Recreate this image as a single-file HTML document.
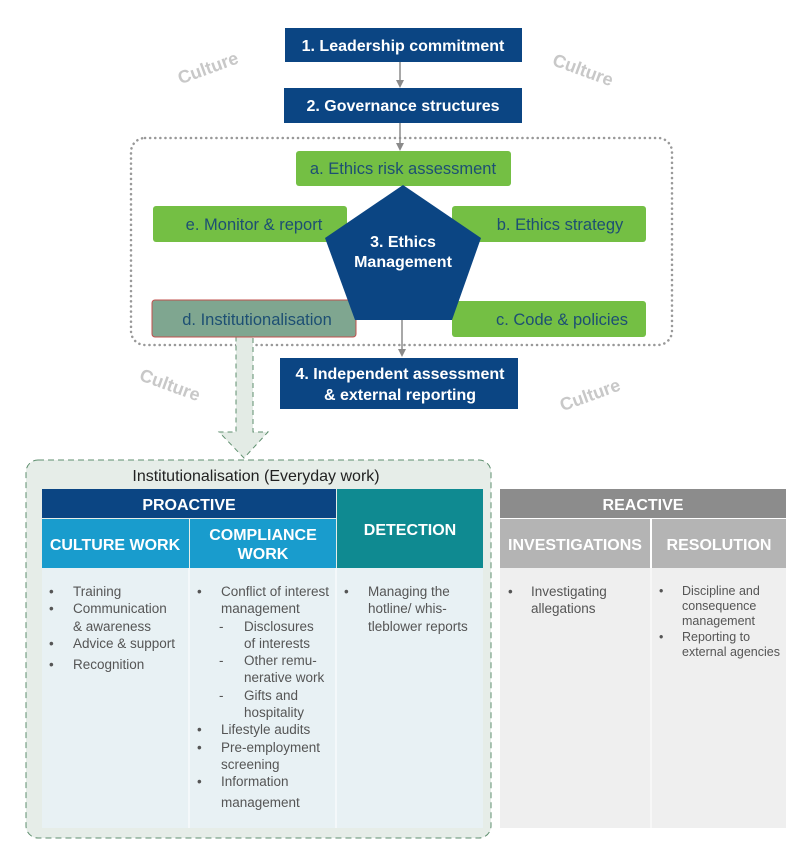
<!DOCTYPE html>
<html><head><meta charset="utf-8"><style>
html,body{margin:0;padding:0;background:#fff;}
svg{display:block;font-family:"Liberation Sans",sans-serif;}
</style></head><body>
<svg width="801" height="847" viewBox="0 0 801 847" xmlns="http://www.w3.org/2000/svg">
<defs><marker id="ah" markerWidth="8" markerHeight="8" refX="6" refY="4" orient="auto" markerUnits="userSpaceOnUse"><path d="M0,0 L8,4 L0,8 z" fill="#8a8a8a"/></marker></defs>
<!-- Culture labels -->
<g font-size="18" font-weight="bold" fill="#c8c8c8">
<text x="208" y="74" text-anchor="middle" transform="rotate(-20 208 68)">Culture</text>
<text x="583" y="76" text-anchor="middle" transform="rotate(20 583 70)">Culture</text>
<text x="170" y="391" text-anchor="middle" transform="rotate(20 170 385)">Culture</text>
<text x="590" y="401" text-anchor="middle" transform="rotate(-20 590 395)">Culture</text>
</g>
<!-- dotted container -->
<rect x="131" y="138" width="541" height="207" rx="14" fill="none" stroke="#999" stroke-width="2.5" stroke-dasharray="0.1 5" stroke-linecap="round"/>
<!-- bottom container -->
<rect x="26" y="460" width="465" height="378" rx="12" fill="#e6ede8" stroke="#5f8f6f" stroke-width="1" stroke-dasharray="6 4"/>
<!-- dashed block arrow -->
<path d="M236,337 L253,337 L253,432 L268,432 L244,458 L219,432 L236,432 Z" fill="#e3ebe5" stroke="#5f8f6f" stroke-width="1" stroke-dasharray="5 4"/>
<!-- arrows -->
<line x1="400" y1="62" x2="400" y2="86" stroke="#8a8a8a" stroke-width="1.5" marker-end="url(#ah)"/>
<line x1="400" y1="123" x2="400" y2="149" stroke="#8a8a8a" stroke-width="1.5" marker-end="url(#ah)"/>
<line x1="402" y1="320" x2="402" y2="355" stroke="#8a8a8a" stroke-width="1.5" marker-end="url(#ah)"/>
<!-- top boxes -->
<rect x="285" y="28" width="237" height="34" fill="#0b4583"/>
<text x="403" y="51" text-anchor="middle" fill="#fff" font-size="16" font-weight="bold">1. Leadership commitment</text>
<rect x="284" y="88" width="238" height="35" fill="#0b4583"/>
<text x="403" y="111" text-anchor="middle" fill="#fff" font-size="16" font-weight="bold">2. Governance structures</text>
<!-- green boxes -->
<g font-size="16.5">
<rect x="296" y="151" width="215" height="35" rx="3" fill="#74bf44"/>
<text x="403" y="174" text-anchor="middle" fill="#1d4f73">a. Ethics risk assessment</text>
<rect x="153" y="206" width="194" height="36" rx="3" fill="#74bf44"/>
<text x="254" y="230" text-anchor="middle" fill="#1d4f73">e. Monitor &amp; report</text>
<rect x="452" y="206" width="194" height="36" rx="3" fill="#74bf44"/>
<text x="560" y="230" text-anchor="middle" fill="#1d4f73">b. Ethics strategy</text>
<rect x="152" y="300" width="204" height="37" rx="3" fill="#7fa690" stroke="#c0504d" stroke-width="1"/>
<text x="257" y="325" text-anchor="middle" fill="#1d4f73">d. Institutionalisation</text>
<rect x="452" y="301" width="194" height="36" rx="3" fill="#74bf44"/>
<text x="562" y="325" text-anchor="middle" fill="#1d4f73">c. Code &amp; policies</text>
</g>
<!-- pentagon -->
<polygon points="403,185 481,238 452,320 355,320 325,238" fill="#0b4583"/>
<text x="403" y="247" text-anchor="middle" fill="#fff" font-size="16" font-weight="bold">3. Ethics</text>
<text x="403" y="267" text-anchor="middle" fill="#fff" font-size="16" font-weight="bold">Management</text>
<!-- box 4 -->
<rect x="280" y="358" width="238" height="51" fill="#0b4583"/>
<text x="400" y="379" text-anchor="middle" fill="#fff" font-size="16" font-weight="bold">4. Independent assessment</text>
<text x="400" y="400" text-anchor="middle" fill="#fff" font-size="16" font-weight="bold">&amp; external reporting</text>
<text x="256" y="481" text-anchor="middle" fill="#222" font-size="16">Institutionalisation (Everyday work)</text>
<!-- proactive table -->
<rect x="42" y="568" width="441" height="260" fill="#e8f1f4"/>
<line x1="189" y1="568" x2="189" y2="828" stroke="#fff" stroke-width="1"/>
<line x1="336" y1="568" x2="336" y2="828" stroke="#fff" stroke-width="1"/>
<rect x="42" y="489" width="294" height="29" fill="#0b4583"/>
<rect x="42" y="519" width="147" height="49" fill="#199ccd"/>
<rect x="190" y="519" width="146" height="49" fill="#199ccd"/>
<rect x="337" y="489" width="146" height="79" fill="#0f8a91"/>
<g fill="#fff" font-weight="bold" font-size="16" text-anchor="middle">
<text x="189" y="510">PROACTIVE</text>
<text x="115" y="550">CULTURE WORK</text>
<text x="263" y="540">COMPLIANCE</text>
<text x="263" y="559">WORK</text>
<text x="410" y="535">DETECTION</text>
</g>
<!-- reactive table -->
<rect x="500" y="568" width="286" height="260" fill="#efefef"/>
<line x1="651" y1="568" x2="651" y2="828" stroke="#fff" stroke-width="1"/>
<rect x="500" y="489" width="286" height="29" fill="#8c8c8c"/>
<rect x="500" y="519" width="150" height="49" fill="#b4b4b4"/>
<rect x="652" y="519" width="134" height="49" fill="#b4b4b4"/>
<g fill="#fff" font-weight="bold" font-size="16" text-anchor="middle">
<text x="643" y="510">REACTIVE</text>
<text x="575" y="550">INVESTIGATIONS</text>
<text x="719" y="550">RESOLUTION</text>
</g>
<!-- body text -->
<g fill="#555" font-size="13.5">
<text x="49" y="596">•</text><text x="73" y="596">Training</text>
<text x="49" y="613">•</text><text x="73" y="613">Communication</text>
<text x="73" y="631">&amp; awareness</text>
<text x="49" y="648">•</text><text x="73" y="648">Advice &amp; support</text>
<text x="49" y="669">•</text><text x="73" y="669">Recognition</text>

<text x="197" y="596">•</text><text x="221" y="596">Conflict of interest</text>
<text x="221" y="613">management</text>
<text x="219" y="631">-</text><text x="244" y="631">Disclosures</text>
<text x="244" y="648">of interests</text>
<text x="219" y="665">-</text><text x="244" y="665">Other remu-</text>
<text x="244" y="682">nerative work</text>
<text x="219" y="700">-</text><text x="244" y="700">Gifts and</text>
<text x="244" y="717">hospitality</text>
<text x="197" y="734">•</text><text x="221" y="734">Lifestyle audits</text>
<text x="197" y="752">•</text><text x="221" y="752">Pre-employment</text>
<text x="221" y="769">screening</text>
<text x="197" y="786">•</text><text x="221" y="786">Information</text>
<text x="221" y="807">management</text>

<text x="344" y="596">•</text><text x="368" y="596">Managing the</text>
<text x="368" y="613">hotline/ whis-</text>
<text x="368" y="631">tleblower reports</text>

<text x="508" y="596">•</text><text x="531" y="596">Investigating</text>
<text x="531" y="613">allegations</text>
</g>
<g fill="#555" font-size="12.5">
<text x="659" y="595">•</text><text x="682" y="595">Discipline and</text>
<text x="682" y="610">consequence</text>
<text x="682" y="625">management</text>
<text x="659" y="641">•</text><text x="682" y="641">Reporting to</text>
<text x="682" y="656">external agencies</text>
</g>
</svg>
</body></html>
